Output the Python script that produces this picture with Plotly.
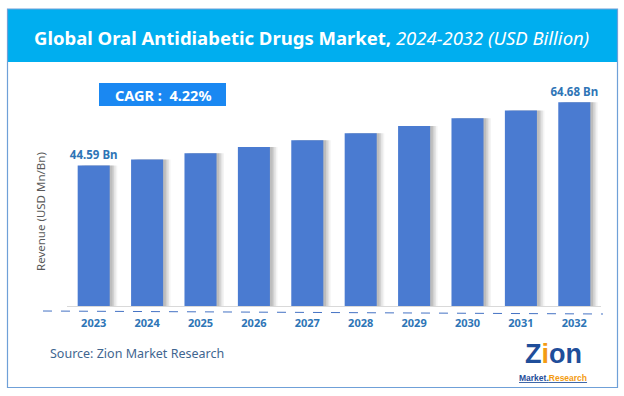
import plotly.graph_objects as go

years = ["2023", "2024", "2025", "2026", "2027", "2028", "2029", "2030", "2031", "2032"]
revenue = [44.59, 46.47, 48.43, 50.48, 52.61, 54.83, 57.14, 59.55, 62.06, 64.68]
label_text = ["44.59 Bn", "", "", "", "", "", "", "", "", "64.68 Bn"]
cagr_text = "CAGR :  4.22%"
title_main = "Global Oral Antidiabetic Drugs Market,"
title_sub = "2024-2032 (USD Billion)"
y_title = "Revenue (USD Mn/Bn)"
source_text = "Source: Zion Market Research"

W, H = 624, 396
def px(x): return x / W
def py(y): return 1 - y / H

FONT = "Noto Sans"
BAR = "#4A7BD1"
LBL = "#2E75B6"

fig = go.Figure()
# soft shadow layers
for off, op in [(0.14, 0.06), (0.11, 0.09), (0.08, 0.12), (0.05, 0.14)]:
    fig.add_trace(go.Bar(x=list(range(len(years))), y=revenue, width=0.6, offset=-0.3 + off,
                         marker=dict(color=f"rgba(70,70,70,{op})", line=dict(width=0)),
                         hoverinfo="skip", showlegend=False))
fig.add_trace(go.Bar(x=list(range(len(years))), y=revenue, width=0.6, offset=-0.3,
                     marker=dict(color=BAR, line=dict(width=0)),
                     text=label_text, textposition="outside", cliponaxis=False,
                     constraintext="none",
                     textfont=dict(family=FONT, size=11.5, color=LBL, weight="bold"),
                     showlegend=False))

fig.update_layout(
    width=W, height=H, margin=dict(l=0, r=0, t=0, b=0),
    paper_bgcolor="white", plot_bgcolor="white", barmode="overlay",
    font=dict(family=FONT),
    xaxis=dict(domain=[px(67), px(601)], range=[-0.5, 9.5],
               tickvals=list(range(len(years))), ticktext=[f"<b>{y}</b>" for y in years],
               tickfont=dict(family=FONT, size=11, color=LBL),
               showline=True, linecolor="#D9D9D9", linewidth=1, ticks="",
               ticklabelstandoff=7, showgrid=False, zeroline=False, fixedrange=True),
    yaxis=dict(domain=[py(306), py(80)], range=[0, 71.7], showticklabels=False,
               showgrid=False, zeroline=False, showline=False, fixedrange=True),
)

shapes = [
    dict(type="rect", xref="paper", yref="paper", x0=px(7), x1=px(618), y0=py(62), y1=py(9),
         fillcolor="#00AEEF", line=dict(width=0), layer="below"),
    dict(type="rect", xref="paper", yref="paper", x0=px(7.5), x1=px(617.5), y0=py(387.5), y1=py(9),
         fillcolor="rgba(0,0,0,0)", line=dict(color="#6FA0D8", width=1.2)),
    dict(type="rect", xref="paper", yref="paper", x0=px(99), x1=px(226), y0=py(106), y1=py(83),
         fillcolor="#1A88F2", line=dict(width=0)),
    dict(type="line", xref="paper", yref="paper", x0=px(43), x1=px(603), y0=py(311), y1=py(314),
         line=dict(color="#4472C4", width=1, dash="dash")),
]
fig.update_layout(shapes=shapes)

ann = [
    dict(x=px(311), y=py(37), xref="paper", yref="paper", showarrow=False,
         text=f"<b>{title_main}</b> <i>{title_sub}</i>",
         font=dict(family=FONT, size=18.5, color="white"), xanchor="center", yanchor="middle"),
    dict(x=px(162.5), y=py(95), xref="paper", yref="paper", showarrow=False,
         text=f"<b>{cagr_text}</b>", font=dict(family=FONT, size=14.5, color="white"),
         xanchor="center", yanchor="middle"),
    dict(x=px(40), y=py(212), xref="paper", yref="paper", showarrow=False, textangle=-90,
         text=y_title, font=dict(family=FONT, size=11.5, color="#595959"),
         xanchor="center", yanchor="middle"),
    dict(x=px(48), y=py(353), xref="paper", yref="paper", showarrow=False,
         text=source_text, font=dict(family=FONT, size=12.5, color="#3F6690"),
         xanchor="left", yanchor="middle"),
    dict(x=px(553), y=py(354), xref="paper", yref="paper", showarrow=False,
         text="<b>Z<span style='color:#F39C12'>i</span>on</b>",
         font=dict(family="Liberation Sans", size=27, color="#1F4E9A"),
         xanchor="center", yanchor="middle"),
    dict(x=px(553), y=py(378), xref="paper", yref="paper", showarrow=False,
         text="<b><u>Market.<span style='color:#F39C12'>Research</span></u></b>",
         font=dict(family="Liberation Sans", size=8.5, color="#1F4E9A"),
         xanchor="center", yanchor="middle"),
]
fig.update_layout(annotations=ann)

fig.write_html("out.html", config={"displayModeBar": False},
               post_script="document.body.style.margin='0px';")
